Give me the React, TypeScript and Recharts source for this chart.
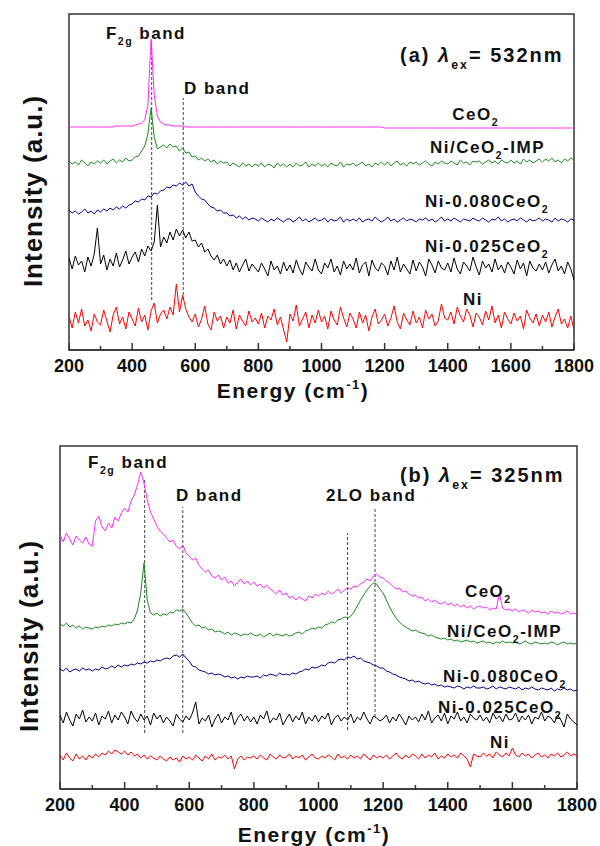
import React from "react";
import { LineChart, Line, XAxis, YAxis, ReferenceLine, ReferenceDot, ReferenceArea } from "recharts";

// Raman shift grid (cm-1), shared by both panels
const energy = [
  200, 210, 220, 230, 240, 250, 260, 270, 280, 290,
  300, 310, 320, 330, 340, 350, 360, 370, 380, 390,
  400, 410, 420, 430, 440, 450, 460, 470, 480, 490,
  500, 510, 520, 530, 540, 550, 560, 570, 580, 590,
  600, 610, 620, 630, 640, 650, 660, 670, 680, 690,
  700, 710, 720, 730, 740, 750, 760, 770, 780, 790,
  800, 810, 820, 830, 840, 850, 860, 870, 880, 890,
  900, 910, 920, 930, 940, 950, 960, 970, 980, 990,
  1000, 1010, 1020, 1030, 1040, 1050, 1060, 1070, 1080, 1090,
  1100, 1110, 1120, 1130, 1140, 1150, 1160, 1170, 1180, 1190,
  1200, 1210, 1220, 1230, 1240, 1250, 1260, 1270, 1280, 1290,
  1300, 1310, 1320, 1330, 1340, 1350, 1360, 1370, 1380, 1390,
  1400, 1410, 1420, 1430, 1440, 1450, 1460, 1470, 1480, 1490,
  1500, 1510, 1520, 1530, 1540, 1550, 1560, 1570, 1580, 1590,
  1600, 1610, 1620, 1630, 1640, 1650, 1660, 1670, 1680, 1690,
  1700, 1710, 1720, 1730, 1740, 1750, 1760, 1770, 1780, 1790,
  1800,
];

const tickValues = [200, 300, 400, 500, 600, 700, 800, 900, 1000, 1100, 1200, 1300, 1400, 1500, 1600, 1700, 1800];

// (a) 532 nm, stacked intensities (a.u.)
const ceo2A = [
  223, 223, 223, 223, 223, 223, 223, 223, 223, 223,
  223, 223, 223, 223, 223, 224, 224, 224, 224, 224,
  224, 225, 226, 227, 230, 245, 311, 255, 234, 228,
  226, 225, 225, 224, 224, 224, 224, 223, 223, 223,
  223, 223, 223, 223, 223, 223, 223, 223, 223, 223,
  223, 223, 223, 223, 223, 223, 223, 223, 223, 223,
  223, 223, 223, 223, 223, 223, 223, 223, 223, 223,
  223, 223, 223, 223, 223, 223, 223, 223, 223, 223,
  223, 223, 223, 223, 223, 223, 223, 223, 223, 223,
  223, 223, 223, 223, 223, 223, 223, 223, 223, 223,
  222, 222, 222, 222, 222, 222, 222, 222, 222, 222,
  222, 222, 222, 222, 222, 222, 222, 222, 222, 222,
  222, 222, 222, 222, 222, 222, 222, 222, 222, 222,
  222, 222, 222, 222, 222, 222, 222, 222, 222, 222,
  222, 222, 222, 222, 222, 222, 222, 222, 222, 222,
  222, 222, 222, 222, 222, 222, 222, 222, 222, 222,
  222,
];
const impA = [
  189, 186, 188, 185, 190, 187, 184, 188, 186, 189,
  187, 190, 186, 189, 191, 187, 190, 188, 192, 189,
  190, 193, 194, 199, 204, 216, 242, 213, 201, 203,
  205, 202, 206, 203, 204, 199, 202, 197, 198, 193,
  194, 190, 192, 189, 191, 188, 190, 186, 189, 187,
  188, 184, 187, 185, 183, 187, 184, 186, 183, 186,
  184, 187, 183, 186, 185, 182, 187, 184, 186, 183,
  186, 183, 187, 184, 185, 188, 183, 186, 184, 187,
  184, 186, 183, 187, 185, 184, 188, 183, 186, 185,
  187, 184, 186, 188, 184, 186, 183, 187, 185, 188,
  185, 188, 184, 187, 189, 185, 187, 184, 188, 186,
  188, 185, 187, 189, 186, 184, 188, 186, 189, 187,
  186, 189, 187, 185, 190, 187, 188, 185, 189, 188,
  189, 186, 188, 190, 187, 189, 186, 190, 188, 187,
  190, 187, 189, 186, 191, 188, 190, 187, 189, 191,
  188, 191, 189, 192, 188, 190, 187, 191, 189, 192,
  190,
];
const n080A = [
  140, 137, 139, 136, 138, 141, 137, 139, 136, 140,
  138, 141, 139, 142, 140, 143, 141, 144, 142, 145,
  146, 149, 148, 151, 150, 154, 153, 157, 156, 159,
  160, 163, 162, 165, 164, 167, 165, 168, 164, 166,
  158, 154, 151, 150, 146, 143, 142, 139, 140, 137,
  137, 134, 135, 132, 134, 131, 133, 130, 132, 131,
  129, 132, 130, 128, 131, 129, 132, 130, 128, 131,
  131, 128, 130, 133, 129, 131, 128, 130, 132, 129,
  130, 132, 128, 131, 129, 130, 133, 128, 131, 129,
  131, 129, 132, 128, 130, 131, 129, 133, 130, 128,
  130, 133, 129, 131, 128, 130, 132, 129, 131, 130,
  128, 131, 130, 132, 129, 131, 128, 130, 133, 129,
  131, 129, 132, 130, 128, 131, 130, 129, 132, 130,
  129, 132, 130, 128, 131, 130, 133, 129, 131, 128,
  130, 131, 129, 132, 130, 128, 131, 129, 130, 132,
  129, 131, 130, 128, 132, 129, 131, 130, 128, 131,
  130,
];
const n025A = [
  92, 81, 94, 85, 89, 78, 93, 84, 96, 122,
  86, 95, 80, 91, 84, 97, 83, 90, 99, 86,
  93, 98, 88, 101, 94, 104, 99, 108, 145, 103,
  113, 107, 118, 110, 121, 114, 120, 112, 118, 109,
  110, 103, 107, 98, 101, 94, 90, 95, 86, 91,
  84, 90, 80, 87, 78, 85, 91, 79, 86, 82,
  78, 87, 81, 74, 89, 80, 84, 76, 88, 79,
  85, 77, 90, 81, 75, 88, 83, 79, 91, 80,
  76, 87, 82, 91, 78, 84, 75, 89, 81, 86,
  80, 92, 77, 85, 88, 74, 90, 82, 79, 87,
  84, 75, 89, 80, 93, 78, 86, 81, 76, 90,
  79, 88, 83, 74, 91, 85, 77, 89, 82, 80,
  87, 78, 92, 81, 76, 88, 84, 79, 93, 83,
  75, 89, 82, 86, 78, 91, 80, 85, 77, 88,
  83, 76, 90, 81, 87, 74, 89, 82, 79, 86,
  80, 88, 77, 85, 91, 79, 84, 76, 88, 81,
  70,
];
const niA = [
  34, 22, 38, 27, 41, 24, 30, 19, 36, 28,
  25, 40, 29, 18, 35, 43, 26, 33, 21, 38,
  31, 24, 42, 28, 35, 20, 39, 47, 27, 36,
  40, 31, 43, 35, 66, 38, 55, 41, 33, 28,
  36, 23, 31, 44, 26, 20, 38, 29, 34, 22,
  33, 27, 40, 21, 35, 29, 24, 39, 28, 32,
  26, 37, 22, 34, 30, 41, 25, 33, 20, 8,
  36, 29, 45, 24, 31, 38, 22, 35, 27, 40,
  28, 34, 21, 39, 30, 25, 43, 32, 23, 37,
  31, 22, 38, 27, 35, 19, 33, 41, 26, 30,
  36, 24, 32, 44, 28, 21, 37, 30, 25, 39,
  27, 33, 22, 40, 31, 36, 24, 29, 46, 32,
  30, 38, 26, 43, 34, 28, 41, 35, 23, 37,
  33, 25, 39, 30, 44, 27, 35, 22, 38, 31,
  26, 37, 29, 34, 21, 40, 32, 27, 36, 24,
  35, 28, 38, 23, 33, 41, 26, 31, 22, 34,
  20,
];

// (b) 325 nm, stacked intensities (a.u.)
const ceo2B = [
  254, 247, 256, 250, 244, 253, 249, 246, 252, 245,
  243, 268, 273, 262, 258, 266, 261, 272, 268, 276,
  281, 277, 288, 294, 304, 317, 306, 289, 277, 270,
  263, 258, 255, 251, 247, 249, 243, 240, 244, 236,
  233, 229, 231, 224, 220, 217, 219, 213, 211, 214,
  209, 212, 206, 208, 203, 207, 210, 205, 208, 204,
  207, 203, 205, 201, 204, 200, 198, 195, 199, 194,
  196, 191, 193, 189, 192, 190, 188, 193, 191, 195,
  193, 196, 194, 198, 195, 197, 200, 196, 199, 201,
  200, 203, 202, 205, 207, 210, 208, 213, 215, 212,
  211, 208, 206, 203, 200, 201, 197, 198, 195, 193,
  194, 191, 192, 188, 190, 187, 189, 186, 185, 187,
  184, 186, 183, 185, 182, 184, 181, 183, 180, 182,
  183, 181, 182, 179, 181, 180, 195, 181, 179, 180,
  178, 180, 177, 179, 178, 176, 179, 177, 178, 176,
  177, 175, 178, 176, 177, 175, 176, 178, 175, 176,
  175,
];
const impB = [
  165, 163, 166, 162, 164, 161, 163, 160, 162, 161,
  160, 162, 161, 163, 162, 164, 163, 165, 164, 166,
  165, 167, 166, 170, 179, 196, 226, 189, 176, 174,
  176, 173, 175, 174, 177, 176, 179, 178, 180, 176,
  171, 166, 163, 164, 161, 162, 159, 160, 157, 158,
  157, 155, 157, 154, 156, 155, 153, 155, 154, 156,
  154, 153, 155, 152, 154, 156, 153, 155, 154, 153,
  155, 153, 154, 156, 157, 155, 158, 159, 161, 160,
  162, 161, 164, 165, 167, 166, 169, 170, 172, 171,
  173, 177, 183, 189, 194, 199, 203, 206, 205, 200,
  196, 189, 182, 176, 171, 167, 164, 162, 160, 158,
  159, 157, 156, 155, 153, 154, 152, 151, 150, 151,
  149, 150, 148, 149, 147, 148, 149, 147, 148, 146,
  147, 148, 146, 147, 145, 147, 146, 148, 146, 147,
  146, 147, 145, 146, 148, 146, 145, 147, 146, 145,
  146, 145, 147, 146, 144, 146, 147, 145, 146, 145,
  146,
];
const n080B = [
  120, 118, 121, 117, 119, 120, 118, 121, 119, 120,
  118, 120, 119, 122, 120, 121, 123, 121, 124, 122,
  124, 123, 125, 124, 126, 125, 127, 126, 128, 127,
  129, 128, 130, 131, 130, 133, 134, 132, 135, 131,
  128, 123, 122, 119, 118, 117, 115, 116, 114, 115,
  114, 112, 113, 111, 112, 110, 112, 111, 113, 112,
  112, 113, 111, 114, 113, 115, 114, 113, 116, 114,
  115, 114, 116, 115, 117, 118, 120, 119, 122, 121,
  122, 124, 123, 126, 127, 126, 129, 130, 129, 132,
  131, 133, 130, 131, 128, 127, 126, 124, 123, 121,
  121, 118, 117, 115, 114, 112, 111, 110, 108, 109,
  107, 108, 106, 105, 106, 104, 105, 103, 104, 102,
  103, 102, 101, 103, 102, 100, 102, 101, 103, 101,
  101, 102, 100, 101, 103, 100, 102, 101, 100, 102,
  101, 100, 102, 99, 101, 100, 102, 100, 99, 101,
  100, 99, 101, 98, 100, 99, 101, 99, 100, 98,
  99,
];
const n025B = [
  74, 66, 77, 69, 63, 75, 70, 79, 67, 72,
  68, 76, 64, 73, 70, 78, 66, 74, 69, 77,
  72, 65, 78, 71, 67, 75, 69, 73, 64, 76,
  70, 74, 66, 72, 68, 63, 75, 70, 67, 73,
  69, 76, 87, 65, 71, 68, 74, 62, 70, 75,
  66, 72, 69, 77, 64, 71, 75, 68, 73, 67,
  72, 65, 74, 70, 78, 66, 71, 69, 76, 64,
  70, 75, 67, 73, 69, 77, 65, 72, 68, 74,
  67, 73, 70, 76, 64, 71, 74, 68, 72, 69,
  75, 66, 72, 69, 77, 70, 65, 73, 71, 68,
  70, 74, 66, 72, 68, 75, 70, 64, 73, 69,
  72, 67, 75, 69, 78, 66, 71, 74, 68, 76,
  65, 73, 70, 77, 68, 72, 66, 75, 71, 69,
  74, 68, 72, 66, 76, 70, 73, 67, 75, 69,
  70, 76, 67, 73, 69, 74, 65, 72, 70, 77,
  68, 73, 71, 66, 74, 69, 62, 75, 70, 67,
  64,
];
const niB = [
  34, 29, 36, 31, 28, 35, 30, 33, 29, 34,
  31, 35, 32, 36, 34, 38, 35, 39, 37, 35,
  38, 34, 37, 33, 35, 31, 34, 30, 33, 31,
  29, 33, 30, 28, 32, 29, 31, 27, 33, 30,
  32, 29, 34, 31, 28, 33, 30, 35, 29, 32,
  31, 34, 30, 33, 20, 30, 33, 29, 32, 31,
  33, 30, 34, 31, 29, 35, 32, 30, 34, 31,
  32, 35, 30, 33, 31, 34, 29, 32, 35, 31,
  30, 33, 31, 34, 32, 29, 35, 31, 33, 30,
  34, 31, 33, 30, 35, 32, 29, 34, 31, 33,
  31, 34, 30, 33, 36, 32, 30, 34, 31, 35,
  33, 30, 35, 31, 34, 32, 36, 30, 33, 31,
  35, 32, 34, 31, 36, 33, 30, 22, 35, 33,
  32, 36, 33, 35, 31, 37, 34, 32, 36, 33,
  41, 34, 32, 36, 33, 35, 31, 34, 36, 32,
  34, 31, 35, 33, 36, 32, 34, 37, 33, 35,
  33,
];

const FONT = "'Liberation Sans', Arial, Helvetica, sans-serif";
const AXIS = "#333";

const series = [
  { key: "ceo2", color: "#ff2bff" },
  { key: "imp", color: "#1b8a1b" },
  { key: "n080", color: "#00008c" },
  { key: "n025", color: "#000000" },
  { key: "ni", color: "#ff0000" },
];

function buildRows(ceo2: number[], imp: number[], n080: number[], n025: number[], ni: number[]) {
  return energy.map((e, i) => ({ e, ceo2: ceo2[i], imp: imp[i], n080: n080[i], n025: n025[i], ni: ni[i] }));
}

type Seg = [string, string];

function Rich({ x, y, segs, size, spacing = 1.5, anchor = "start", rotate = false }: any) {
  let shift = 0;
  const spans = (segs as Seg[]).map(([t, k], i) => {
    const target = k === "sub" ? size * 0.33 : k === "sup" ? -size * 0.45 : 0;
    const dy = target - shift;
    shift = target;
    const small = k === "sub" || k === "sup";
    return (
      <tspan key={i} dy={dy} fontSize={small ? size * 0.62 : size} fontStyle={k === "it" ? "italic" : "normal"}>
        {t}
      </tspan>
    );
  });
  return (
    <text
      x={x}
      y={y}
      fontSize={size}
      fontWeight="bold"
      fontFamily={FONT}
      letterSpacing={spacing}
      textAnchor={anchor}
      fill="#111"
      transform={rotate ? `rotate(-90 ${x} ${y})` : undefined}
    >
      {spans}
    </text>
  );
}

function EnergyTick(props: any) {
  const { x, y, payload } = props;
  const major = payload.value % 200 === 0;
  return (
    <g>
      <line x1={x} x2={x} y1={y} y2={y - (major ? 7 : 4)} stroke={AXIS} strokeWidth={1.5} />
      {major && (
        <text x={x} y={y + 22} textAnchor="middle" fontSize={18} fontWeight="bold" fontFamily={FONT} fill="#111">
          {payload.value}
        </text>
      )}
    </g>
  );
}

function EnergyTitle(props: any) {
  const { viewBox, cx, base } = props;
  return (
    <Rich x={viewBox.x + cx} y={viewBox.y + base} anchor="middle" size={21} spacing={1.5}
      segs={[["Energy (cm", ""], ["-1", "sup"], [")", ""]]} />
  );
}

const tagShape = (segs: Seg[], size = 17, spacing = 1.5, anchor = "start", rotate = false) => (p: any) =>
  <Rich x={p.cx} y={p.cy} segs={segs} size={size} spacing={spacing} anchor={anchor} rotate={rotate} />;

const panelA = {
  rows: buildRows(ceo2A, impA, n080A, n025A, niA),
  top: 0,
  height: 420,
  yMax: 336,
  margin: { top: 14, right: 26, left: 69, bottom: 25 },
  xAxisHeight: 45,
  energyTitle: { cx: 224, base: 48 },
  intensityAt: { e: 114, v: 159 },
  bands: [
    { e: 462, from: 50, to: 310 },
    { e: 562, from: 50, to: 252 },
  ],
  tags: [
    { e: 317, v: 311, segs: [["F", ""], ["2g", "sub"], [" band", ""]] as Seg[] },
    { e: 564, v: 256, segs: [["D band", ""]] as Seg[] },
    { e: 1249, v: 288, size: 20, spacing: 2, segs: [["(a) ", ""], ["λ", "it"], ["ex", "sub"], ["= 532nm", ""]] as Seg[] },
    { e: 1414, v: 230, segs: [["CeO", ""], ["2", "sub"]] as Seg[] },
    { e: 1344, v: 197, segs: [["Ni/CeO", ""], ["2", "sub"], ["-IMP", ""]] as Seg[] },
    { e: 1328, v: 143, segs: [["Ni-0.080CeO", ""], ["2", "sub"]] as Seg[] },
    { e: 1328, v: 98, segs: [["Ni-0.025CeO", ""], ["2", "sub"]] as Seg[] },
    { e: 1448, v: 45, segs: [["Ni", ""]] as Seg[] },
  ],
};

const panelB = {
  rows: buildRows(ceo2B, impB, n080B, n025B, niB),
  top: 420,
  height: 426,
  yMax: 343,
  margin: { top: 26, right: 23, left: 60, bottom: 17 },
  xAxisHeight: 40,
  energyTitle: { cx: 254, base: 53 },
  intensityAt: { e: 132, v: 153 },
  bands: [
    { e: 462, from: 56, to: 309 },
    { e: 580, from: 56, to: 282 },
    { e: 1090, from: 59, to: 256 },
    { e: 1175, from: 72, to: 282 },
  ],
  tags: [
    { e: 287, v: 321, segs: [["F", ""], ["2g", "sub"], [" band", ""]] as Seg[] },
    { e: 559, v: 288, segs: [["D band", ""]] as Seg[] },
    { e: 1023, v: 288, segs: [["2LO band", ""]] as Seg[] },
    { e: 1252, v: 307, size: 20, spacing: 2, segs: [["(b) ", ""], ["λ", "it"], ["ex", "sub"], ["= 325nm", ""]] as Seg[] },
    { e: 1453, v: 192, segs: [["CeO", ""], ["2", "sub"]] as Seg[] },
    { e: 1398, v: 152, segs: [["Ni/CeO", ""], ["2", "sub"], ["-IMP", ""]] as Seg[] },
    { e: 1385, v: 107, segs: [["Ni-0.080CeO", ""], ["2", "sub"]] as Seg[] },
    { e: 1370, v: 76, segs: [["Ni-0.025CeO", ""], ["2", "sub"]] as Seg[] },
    { e: 1531, v: 41, segs: [["Ni", ""]] as Seg[] },
  ],
};

function Panel({ cfg }: any) {
  return (
    <div style={{ position: "absolute", left: 0, top: cfg.top }}>
      <LineChart width={600} height={cfg.height} data={cfg.rows} margin={cfg.margin}>
        <XAxis
          dataKey="e"
          type="number"
          domain={[200, 1800]}
          allowDataOverflow
          ticks={tickValues}
          interval={0}
          tickSize={0}
          tickMargin={0}
          tickLine={false}
          tick={(p: any) => <EnergyTick {...p} />}
          axisLine={{ stroke: AXIS, strokeWidth: 1.5 }}
          height={cfg.xAxisHeight}
          label={<EnergyTitle {...cfg.energyTitle} />}
        />
        <YAxis type="number" domain={[0, cfg.yMax]} allowDataOverflow hide />
        {cfg.bands.map((b: any, i: number) => (
          <ReferenceLine
            key={"band" + i}
            segment={[{ x: b.e, y: b.from }, { x: b.e, y: b.to }]}
            stroke="#444"
            strokeWidth={1}
            strokeDasharray="3 2"
          />
        ))}
        {series.map((s) => (
          <Line
            key={s.key}
            dataKey={s.key}
            stroke={s.color}
            strokeWidth={1}
            dot={false}
            type="linear"
            isAnimationActive={false}
          />
        ))}
        <ReferenceArea x1={200} x2={1800} y1={0} y2={cfg.yMax} fill="none" fillOpacity={0}
          stroke={AXIS} strokeWidth={1.5} ifOverflow="visible" />
        {cfg.tags.map((t: any, i: number) => (
          <ReferenceDot
            key={"tag" + i}
            x={t.e}
            y={t.v}
            r={0}
            ifOverflow="visible"
            shape={tagShape(t.segs, t.size ?? 17, t.spacing ?? 1.5)}
          />
        ))}
        <ReferenceDot
          x={cfg.intensityAt.e}
          y={cfg.intensityAt.v}
          r={0}
          ifOverflow="visible"
          shape={tagShape([["Intensity (a.u.)", ""]], 26, 1, "middle", true)}
        />
      </LineChart>
    </div>
  );
}

export default function App() {
  return (
    <div style={{ position: "absolute", left: 0, top: 0, width: 600, height: 846, background: "#fff" }}>
      <Panel cfg={panelA} />
      <Panel cfg={panelB} />
    </div>
  );
}
